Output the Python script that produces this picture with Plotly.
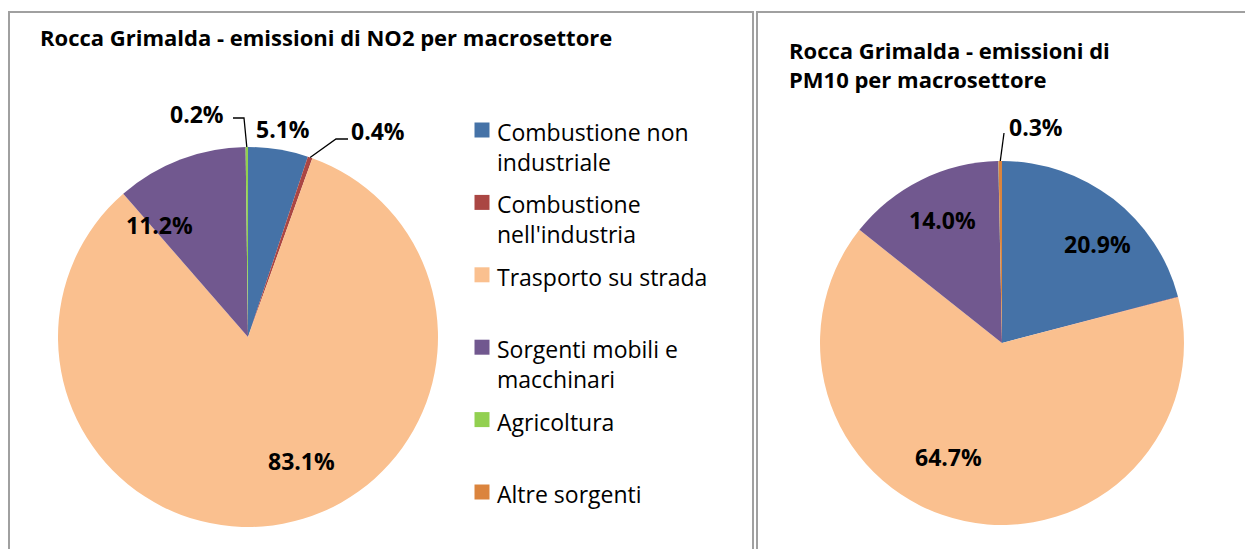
import math
import plotly.graph_objects as go

# ---------------- data ----------------
categories = ["Combustione non industriale", "Combustione nell'industria", "Trasporto su strada",
              "Sorgenti mobili e macchinari", "Agricoltura", "Altre sorgenti"]
legend_labels = ["Combustione non<br>industriale", "Combustione<br>nell'industria", "Trasporto su strada",
                 "Sorgenti mobili e<br>macchinari", "Agricoltura", "Altre sorgenti"]
no2_values = [5.1, 0.4, 83.1, 11.2, 0.2, 0.0]
pm10_values = [20.9, 0.05, 64.7, 14.0, 0.02, 0.3]
no2_labelled = [True, True, True, True, True, False]
pm10_labelled = [True, False, True, True, False, True]
title_no2 = "Rocca Grimalda - emissioni di NO2 per macrosettore"
title_pm10 = "Rocca Grimalda - emissioni di<br>PM10 per macrosettore"

# ---------------- style ----------------
colors = ["#4572A7", "#AA4643", "#FAC08F", "#71588F", "#92D050", "#DB843D"]
W, H = 1245, 549
FONT = "Open Sans"

def px(x):
    return x / W

def py(y):
    return 1 - y / H

# pie geometry (pixels): centre and radius
pie1 = dict(cx=248, cy=337, r=190)
pie2 = dict(cx=1002, cy=343, r=182)

# label placement (pixel centres) and leader-line elbows
no2_label_pos = {0: (283, 129), 1: (378, 131), 2: (301, 461), 3: (160, 225), 4: (197, 114)}
no2_leaders = {1: [(336, 139), (348, 139)], 4: [(244, 118), (233, 118)]}
pm10_label_pos = {0: (1097, 244), 2: (949, 457), 3: (942, 220), 5: (1036, 127)}
pm10_leaders = {5: [(1004, 133)]}

fig = go.Figure()

def add_pie(values, geo, name):
    fig.add_trace(go.Pie(
        labels=categories, values=values, name=name,
        sort=False, direction="clockwise", rotation=0,
        marker=dict(colors=colors, line=dict(color="white", width=0)),
        textinfo="none", hoverinfo="label+percent", showlegend=False,
        domain=dict(x=[px(geo["cx"] - geo["r"]), px(geo["cx"] + geo["r"])],
                    y=[py(geo["cy"] + geo["r"]), py(geo["cy"] - geo["r"])]),
    ))

add_pie(no2_values, pie1, "NO2")
add_pie(pm10_values, pie2, "PM10")

annotations = []
shapes = []

def add_labels(values, labelled, pos, leaders, geo):
    total = sum(values)
    cum = 0.0
    for i, v in enumerate(values):
        mid = (cum + v / 2) / total * 2 * math.pi
        cum += v
        if not labelled[i] or v <= 0:
            continue
        share = v / total * 100
        x, y = pos[i]
        annotations.append(dict(
            x=px(x), y=py(y), xref="paper", yref="paper", showarrow=False,
            text=f"<b>{share:.1f}%</b>", xanchor="center", yanchor="middle",
            font=dict(family=FONT, size=23, color="black")))
        if i in leaders:
            ex = geo["cx"] + geo["r"] * math.sin(mid)
            ey = geo["cy"] - geo["r"] * math.cos(mid)
            pts = [(ex, ey)] + leaders[i]
            path = "M " + " L ".join(f"{px(a):.5f},{py(b):.5f}" for a, b in pts)
            shapes.append(dict(type="path", path=path, xref="paper", yref="paper",
                               line=dict(color="black", width=1.3)))

add_labels(no2_values, no2_labelled, no2_label_pos, no2_leaders, pie1)
add_labels(pm10_values, pm10_labelled, pm10_label_pos, pm10_leaders, pie2)

# titles
annotations.append(dict(x=px(38), y=py(37), xref="paper", yref="paper", showarrow=False,
                        text=f"<b>{title_no2}</b>", xanchor="left", yanchor="middle",
                        font=dict(family=FONT, size=22, color="black")))
annotations.append(dict(x=px(787), y=py(33), xref="paper", yref="paper", showarrow=False,
                        text=f"<b>{title_pm10}</b>", xanchor="left", yanchor="top", align="left",
                        font=dict(family=FONT, size=22, color="black")))

# legend (manual, equal slots like the original)
leg_x_sq, leg_x_txt, leg_y0, leg_step, sq = 482, 495, 130, 72.4, 15
for i, lab in enumerate(legend_labels):
    yc = leg_y0 + i * leg_step
    shapes.append(dict(type="rect", xref="paper", yref="paper",
                       x0=px(leg_x_sq - sq / 2), x1=px(leg_x_sq + sq / 2),
                       y0=py(yc + sq / 2), y1=py(yc - sq / 2),
                       fillcolor=colors[i], line=dict(width=0)))
    annotations.append(dict(x=px(leg_x_txt), y=py(yc - 16), xref="paper", yref="paper",
                            showarrow=False, text=lab, xanchor="left", yanchor="top",
                            align="left", font=dict(family=FONT, size=23, color="black")))

# panel borders
shapes.append(dict(type="rect", xref="paper", yref="paper", x0=px(9), x1=px(753), y0=py(560), y1=py(12),
                   line=dict(color="#A0A0A0", width=2), layer="below"))
shapes.append(dict(type="rect", xref="paper", yref="paper", x0=px(757), x1=px(1260), y0=py(560), y1=py(12),
                   line=dict(color="#A0A0A0", width=2), layer="below"))

fig.update_layout(width=W, height=H, margin=dict(l=0, r=0, t=0, b=0),
                  paper_bgcolor="white", plot_bgcolor="white",
                  annotations=annotations, shapes=shapes, showlegend=False)

fig.write_html("out.html", config={"displayModeBar": False},
               post_script="document.body.style.margin='0';document.body.style.overflow='hidden';")
